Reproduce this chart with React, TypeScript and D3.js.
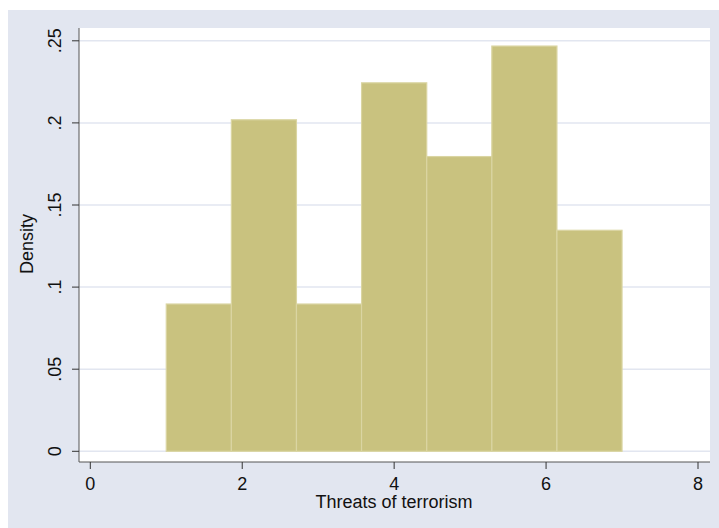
import React from "react";
import * as d3 from "d3";

const binEdges = [1, 1.857, 2.714, 3.571, 4.429, 5.286, 6.143, 7];
const densities = [0.0897, 0.2019, 0.0897, 0.2244, 0.1795, 0.2468, 0.1346];
const yTicks = [0, 0.05, 0.1, 0.15, 0.2, 0.25];
const yTickLabels = ["0", ".05", ".1", ".15", ".2", ".25"];
const xTicks = [0, 2, 4, 6, 8];
const xTitle = "Threats of terrorism";
const yTitle = "Density";

export default function App() {
  const W = 719, H = 528;
  const plot = { left: 79, right: 710, top: 28, bottom: 462 };
  const x = d3.scaleLinear().domain([0, 8]).range([90.3, 698]);
  const y = d3.scaleLinear().domain([0, 0.25]).range([451.3, 40.8]);
  const font = "'Liberation Sans', Arial, Helvetica, sans-serif";
  const bars = densities.map((d, i) => ({ x0: binEdges[i], x1: binEdges[i + 1], d }));
  return (
    <svg width={W} height={H} style={{ position: "absolute", left: 0, top: 0 }}>
      <rect x={0} y={0} width={W} height={H} fill="#ffffff" />
      <rect x={8} y={10} width={W - 8} height={H - 10} fill="#E2E6F0" />
      <rect x={plot.left} y={plot.top} width={plot.right - plot.left} height={plot.bottom - plot.top} fill="#ffffff" />
      {yTicks.map((t) => (
        <line key={"g" + t} x1={plot.left} x2={plot.right} y1={y(t)} y2={y(t)} stroke="#E2E6F0" strokeWidth={1.5} />
      ))}
      {bars.map((b, i) => (
        <rect
          key={i}
          x={x(b.x0)}
          y={y(b.d)}
          width={x(b.x1) - x(b.x0)}
          height={y(0) - y(b.d)}
          fill="#C9C27F"
          stroke="#DAD5A2"
          strokeWidth={1.2}
        />
      ))}
      <line x1={plot.left} x2={plot.left} y1={plot.top} y2={plot.bottom} stroke="#555" strokeWidth={1} />
      <line x1={plot.left} x2={plot.right} y1={plot.bottom} y2={plot.bottom} stroke="#555" strokeWidth={1} />
      {yTicks.map((t, i) => (
        <g key={"yt" + t}>
          <line x1={plot.left - 7} x2={plot.left} y1={y(t)} y2={y(t)} stroke="#333" strokeWidth={1} />
          <text
            transform={`translate(${60.5},${y(t)}) rotate(-90)`}
            textAnchor="middle"
            fontFamily={font}
            fontSize={18}
            fill="#111"
          >
            {yTickLabels[i]}
          </text>
        </g>
      ))}
      {xTicks.map((t) => (
        <g key={"xt" + t}>
          <line x1={x(t)} x2={x(t)} y1={plot.bottom} y2={plot.bottom + 7} stroke="#333" strokeWidth={1} />
          <text x={x(t)} y={490} textAnchor="middle" fontFamily={font} fontSize={18} fill="#111">
            {t}
          </text>
        </g>
      ))}
      <text x={394} y={507.5} textAnchor="middle" fontFamily={font} fontSize={18} fill="#111">
        {xTitle}
      </text>
      <text transform={`translate(33,244) rotate(-90)`} textAnchor="middle" fontFamily={font} fontSize={18} fill="#111">
        {yTitle}
      </text>
    </svg>
  );
}
